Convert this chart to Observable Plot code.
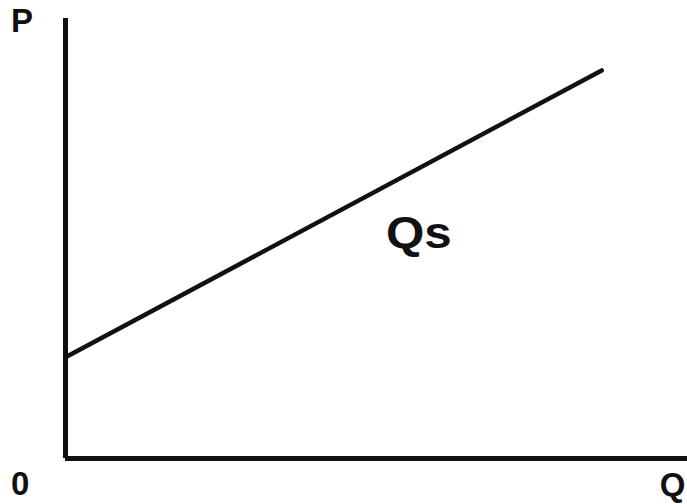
<!DOCTYPE html>
<html>
<head>
<meta charset="utf-8">
<script src="https://cdn.jsdelivr.net/npm/d3@7"></script>
<script src="https://cdn.jsdelivr.net/npm/@observablehq/plot@0.6"></script>
<style>
  html, body { margin: 0; padding: 0; background: #fff; }
  svg { display: block; }
</style>
</head>
<body>
<div id="chart"></div>
<script>
// Supply curve endpoints (quantity, price) in arbitrary units 0..10
const supplyQ = [0, 8.62];
const supplyP = [2.3, 8.82];
// Axis extents
const axisMax = [10];
// Labels
const labelText = ["P", "0", "Q", "Qs"];
const labelQ = [-0.7, -0.73, 9.76, 5.68];
const labelP = [9.93, -0.6, -0.62, 5.1];
const labelSize = [33, 33, 33, 44];

const supply = supplyQ.map((q, i) => ({q, p: supplyP[i]}));
const labels = labelText.map((t, i) => ({t, q: labelQ[i], p: labelP[i], s: labelSize[i]}));

const chart = Plot.plot({
  width: 687,
  height: 504,
  marginLeft: 65,
  marginRight: 0,
  marginTop: 18,
  marginBottom: 46,
  x: {domain: [0, 10], axis: null},
  y: {domain: [0, 10], axis: null},
  style: {fontFamily: "'Liberation Sans', Arial, sans-serif", background: "#fff"},
  marks: [
    Plot.ruleX([0], {y1: 0, y2: axisMax[0], stroke: "#111", strokeWidth: 5}),
    Plot.ruleY([0], {x1: 0, x2: axisMax[0], stroke: "#111", strokeWidth: 5}),
    Plot.line(supply, {x: "q", y: "p", stroke: "#111", strokeWidth: 4.5}),
    Plot.text(labels.filter(d => d.s < 40), {x: "q", y: "p", text: "t", fontSize: 33, fontWeight: "bold", fill: "#111", clip: false}),
    Plot.text(labels.filter(d => d.s >= 40), {x: "q", y: "p", text: "t", fontSize: 44, fontWeight: "bold", fill: "#111", clip: false, className: "curve-label"})
  ]
});
// Slight horizontal stretch of the curve label, as in the reference
d3.select(chart).selectAll(".curve-label text").each(function() {
  const el = d3.select(this);
  const t = el.attr("transform");
  if (t) {
    el.attr("transform", t + " scale(1.12,1)");
  } else {
    const x = +el.attr("x") || 0, y = +el.attr("y") || 0;
    el.attr("x", 0).attr("y", 0).attr("transform", `translate(${x},${y}) scale(1.12,1)`);
  }
});
document.getElementById("chart").appendChild(chart);
</script>
</body>
</html>
